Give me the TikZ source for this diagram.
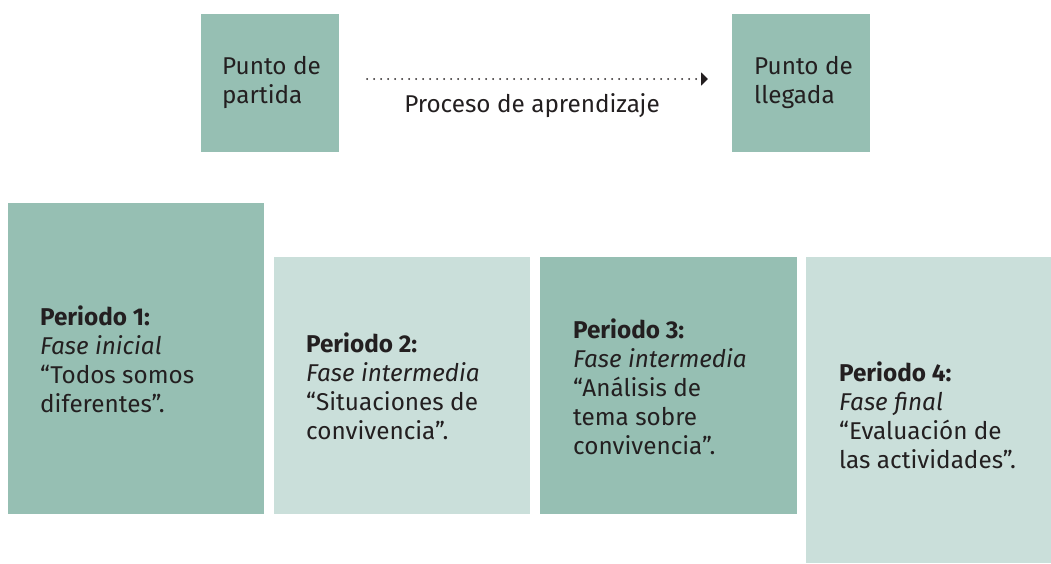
\documentclass[tikz,border=0pt]{standalone}
\usepackage{fontspec}
\setmainfont{Fira Sans}
\usetikzlibrary{arrows.meta}
\definecolor{darkgreen}{HTML}{96BFB3}
\definecolor{lightgreen}{HTML}{CADFDA}
\definecolor{ink}{HTML}{231F20}
\tikzset{
  darkbox/.style={fill=darkgreen,draw=none},
  lightbox/.style={fill=lightgreen,draw=none},
  txt/.style={anchor=base west,inner sep=0pt,align=left,text=ink,
    font=\fontsize{24.3}{29}\selectfont},
}
\begin{document}
\begin{tikzpicture}[x=1pt,y=-1pt]
\useasboundingbox (0,0) rectangle (1051,563);
% top
\fill[darkbox] (201,14) rectangle (339,152);
\fill[darkbox] (732,14) rectangle (870,152);
\node[txt] (pa) at (222,103) {Punto de\\partida};
\node[txt] (pl) at (754,103) {Punto de\\llegada};
\coordinate (as) at (367,79);
\coordinate (ae) at (708,79);
\draw[ink,line width=2pt,line cap=round,dash pattern=on 0pt off 7pt,
  -{Triangle[length=7pt,width=13pt,line cap=butt]}] (as) -- (ae);
\node[txt,anchor=base] (proc) at (532,112) {Proceso de aprendizaje};
% bottom
\fill[darkbox] (8,203) rectangle (264,514);
\fill[lightbox] (274,257) rectangle (530,514);
\fill[darkbox] (540,257) rectangle (797,514);
\fill[lightbox] (806,257) rectangle (1051,563);
\node[txt] (p1) at (40,412) {\textbf{Periodo 1:}\\\textit{Fase inicial}\\“Todos somos\\diferentes”.};
\node[txt] (p2) at (306,439) {\textbf{Periodo 2:}\\\textit{Fase intermedia}\\“Situaciones de\\convivencia”.};
\node[txt] (p3) at (573,454) {\textbf{Periodo 3:}\\\textit{Fase intermedia}\\“Análisis de\\tema sobre\\convivencia”.};
\node[txt] (p4) at (839,468) {\textbf{Periodo 4:}\\\textit{Fase final}\\“Evaluación de\\las actividades”.};
\end{tikzpicture}
\end{document}
